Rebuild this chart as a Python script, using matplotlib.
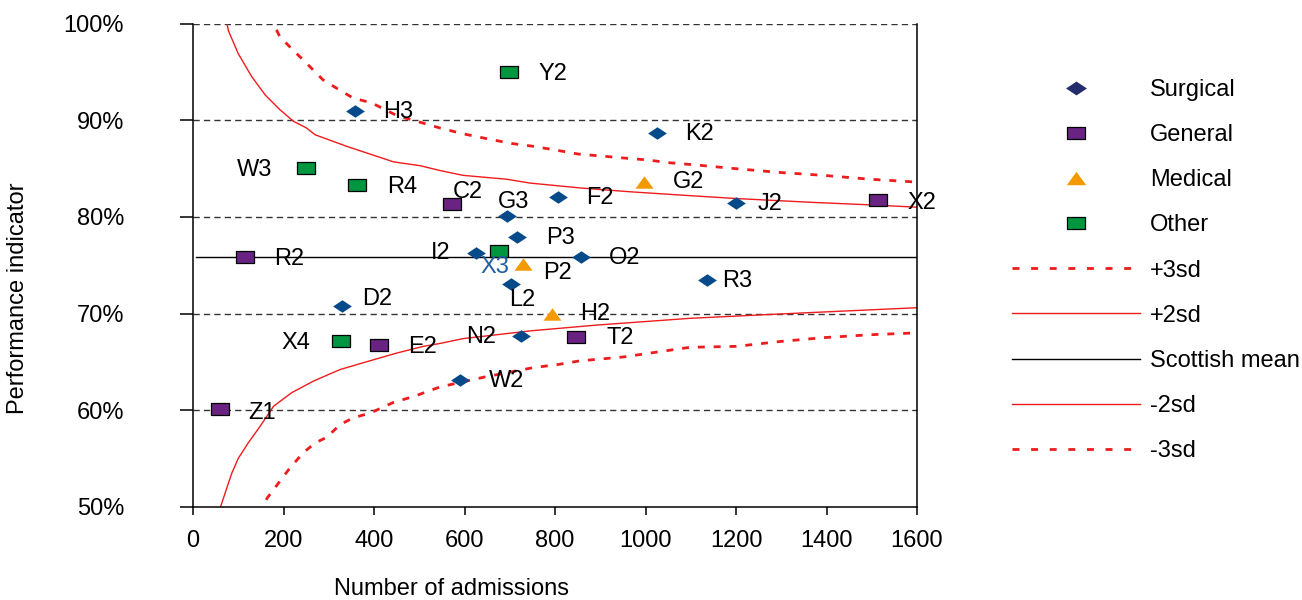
import matplotlib.pyplot as plt
from matplotlib.lines import Line2D

plt.rcParams['font.family'] = ['Liberation Sans', 'DejaVu Sans']
plt.rcParams['font.size'] = 17

# Hospital results: admissions (n) and performance indicator (%), by specialty
surgical_labels = ['H3', 'K2', 'F2', 'G3', 'P3', 'I2', 'O2', 'J2', 'L2', 'R3', 'D2', 'N2', 'W2']
surgical_n = [358, 1025, 807, 695, 717, 625, 857, 1201, 702, 1137, 330, 724, 590]
surgical_pct = [91.0, 88.7, 82.1, 80.1, 77.95, 76.3, 75.9, 81.4, 73.1, 73.5, 70.8, 67.7, 63.1]

general_labels = ['C2', 'X2', 'R2', 'E2', 'T2', 'Z1']
general_n = [572, 1513, 116, 411, 846, 60]
general_pct = [81.3, 81.7, 75.8, 66.7, 67.6, 60.1]

medical_labels = ['G2', 'P2', 'H2']
medical_n = [997, 730, 794]
medical_pct = [83.6, 75.15, 69.9]

other_labels = ['Y2', 'W3', 'R4', 'X3', 'X4']
other_n = [698, 249, 362, 677, 327]
other_pct = [95.0, 85.1, 83.3, 76.45, 67.2]

scottish_mean = 75.9
mean_n = [7, 1600]

# Control limits
plus3_n = [164, 185, 192, 214, 251, 287, 325, 354, 395, 450, 546, 597, 649, 704, 753, 804,
           852, 903, 951, 1003, 1054, 1106, 1198, 1297, 1393, 1496, 1601]
plus3_pct = [100.7, 99.3, 98.65, 97.6, 95.9, 94.2, 93.1, 92.3, 91.8, 90.5, 89.2, 88.6, 88.1,
             87.6, 87.3, 86.9, 86.5, 86.3, 86.1, 85.9, 85.6, 85.4, 85.0, 84.6, 84.3, 83.9, 83.6]

plus2_n = [72, 78, 100, 130, 160, 192, 222, 251, 270, 340, 443, 502, 546, 597, 693, 745,
           855, 966, 1098, 1201, 1371, 1518, 1601]
plus2_pct = [100.9, 99.3, 96.9, 94.5, 92.6, 91.1, 89.9, 89.2, 88.5, 87.3, 85.7, 85.3, 84.8,
             84.3, 83.9, 83.5, 83.0, 82.6, 82.2, 81.9, 81.5, 81.2, 81.0]

minus2_n = [61, 78, 86, 100, 122, 148, 178, 218, 266, 325, 398, 450, 509, 546, 597, 671,
            745, 892, 1098, 1297, 1601]
minus2_pct = [50.0, 52.4, 53.5, 55.0, 56.6, 58.3, 60.4, 61.8, 63.0, 64.2, 65.2, 65.9, 66.6,
              66.9, 67.4, 67.8, 68.2, 68.8, 69.5, 69.95, 70.6]

minus3_n = [144, 164, 185, 214, 244, 270, 296, 325, 354, 392, 443, 487, 546, 642, 752, 804,
            855, 951, 1039, 1098, 1201, 1297, 1393, 1496, 1601]
minus3_pct = [49.3, 50.9, 52.2, 54.0, 55.6, 56.6, 57.2, 58.5, 59.2, 59.7, 60.8, 61.4, 62.4,
              63.4, 64.4, 64.7, 65.1, 65.5, 66.1, 66.5, 66.6, 67.1, 67.5, 67.8, 68.0]

# label offsets in pixels from each marker
label_offsets = {
    'H3': (43, -1), 'K2': (43, -1), 'F2': (42, -1), 'G3': (6, 14), 'P3': (43, -1),
    'I2': (-35, 0), 'O2': (44, -1), 'J2': (34, -1), 'L2': (12, -16), 'R3': (30, -1),
    'D2': (35, 7), 'N2': (-39, -1), 'W2': (47, -1), 'C2': (16, 12), 'X2': (44, -3),
    'R2': (44, -2), 'E2': (44, -2), 'T2': (44, -1), 'Z1': (42, -4), 'G2': (44, 0),
    'P2': (34, -9), 'H2': (43, 0), 'Y2': (44, -2), 'W3': (-51, -2), 'R4': (45, -2),
    'X3': (-4, -16), 'X4': (-45, -2),
}

diamond = [(0, 1), (1.5, 0), (0, -1), (-1.5, 0), (0, 1)]
rect = [(-1.55, -1), (1.55, -1), (1.55, 1), (-1.55, 1), (-1.55, -1)]
tri = [(0, 1), (-1.45, -1), (1.45, -1), (0, 1)]

c_surg = '#064A8A'
c_gen = '#6A2383'
c_med = '#F39A00'
c_oth = '#00963F'
c_red = '#EE1C1C'

fig = plt.figure(figsize=(13.02, 6.0), dpi=100)
ax = fig.add_axes([193 / 1302, 1 - 506.7 / 600, (917 - 193) / 1302, (506.7 - 23.7) / 600])

for y in [60, 70, 80, 90, 100]:
    ax.axhline(y, color='#333333', lw=1, dashes=(4.5, 3), zorder=1)

ax.plot(mean_n, [scottish_mean] * 2, color='black', lw=1, zorder=2)
ax.plot(plus3_n, plus3_pct, color=c_red, lw=2, dashes=(2.5, 3.2), zorder=2)
ax.plot(plus2_n, plus2_pct, color=c_red, lw=1, zorder=2)
ax.plot(minus2_n, minus2_pct, color=c_red, lw=1, zorder=2)
ax.plot(minus3_n, minus3_pct, color=c_red, lw=2, dashes=(2.5, 3.2), zorder=2)

ax.scatter(surgical_n, surgical_pct, marker=diamond, s=13.5 ** 2, color=c_surg, lw=0, zorder=3)
ax.scatter(general_n, general_pct, marker=rect, s=12.5 ** 2, color=c_gen, edgecolor='black', lw=0.9, zorder=3)
ax.scatter(medical_n, medical_pct, marker=tri, s=13 ** 2, color=c_med, lw=0, zorder=3)
ax.scatter(other_n, other_pct, marker=rect, s=12.5 ** 2, color=c_oth, edgecolor='black', lw=0.9, zorder=3)

for labels, ns, pcts in [(surgical_labels, surgical_n, surgical_pct),
                         (general_labels, general_n, general_pct),
                         (medical_labels, medical_n, medical_pct),
                         (other_labels, other_n, other_pct)]:
    for lab, n, p in zip(labels, ns, pcts):
        dx, dy = label_offsets[lab]
        col = '#1F5FA0' if lab == 'X3' else 'black'
        ax.annotate(lab, (n, p), xytext=(dx, dy), textcoords='offset pixels',
                    ha='center', va='center', color=col, fontsize=17, zorder=4,
                    annotation_clip=False)

ax.set_xlim(0, 1600)
ax.set_ylim(50, 100)
ax.set_xticks(range(0, 1601, 200))
ax.set_yticks(range(50, 101, 10))
ax.set_yticklabels([f'{v}%' for v in range(50, 101, 10)])
ax.spines['top'].set_visible(False)
for s in ['left', 'right', 'bottom']:
    ax.spines[s].set_linewidth(1.1)
ax.tick_params(axis='y', direction='out', length=9.5, width=1.1, pad=40)
ax.tick_params(axis='x', direction='out', length=5.8, width=1.1, pad=11)

fig.text(18 / 1302, 1 - 298 / 600, 'Performance indicator', rotation=90,
         ha='center', va='center', fontsize=17)
fig.text(452 / 1302, 1 - 589 / 600, 'Number of admissions', ha='center', va='center', fontsize=17)

handles = [
    Line2D([], [], ls='none', marker=diamond, ms=15, color='#232D6C', mew=0),
    Line2D([], [], ls='none', marker=rect, ms=12.5, mfc=c_gen, mec='black', mew=0.9),
    Line2D([], [], ls='none', marker=tri, ms=14, color=c_med, mew=0),
    Line2D([], [], ls='none', marker=rect, ms=12.5, mfc=c_oth, mec='black', mew=0.9),
    Line2D([], [], color=c_red, lw=2, dashes=(2.5, 4.2)),
    Line2D([], [], color=c_red, lw=1),
    Line2D([], [], color='black', lw=1),
    Line2D([], [], color=c_red, lw=1),
    Line2D([], [], color=c_red, lw=2, dashes=(2.5, 4.2)),
]
names = ['Surgical', 'General', 'Medical', 'Other', '+3sd', '+2sd', 'Scottish mean', '-2sd', '-3sd']
fig.legend(handles, names, loc='upper left', bbox_to_anchor=(1012 / 1302, 1 - 79 / 600),
           frameon=False, handlelength=5.42, handletextpad=0.42, labelspacing=0.98,
           borderpad=0, borderaxespad=0, fontsize=17)

fig.savefig('out.png', dpi=100)
